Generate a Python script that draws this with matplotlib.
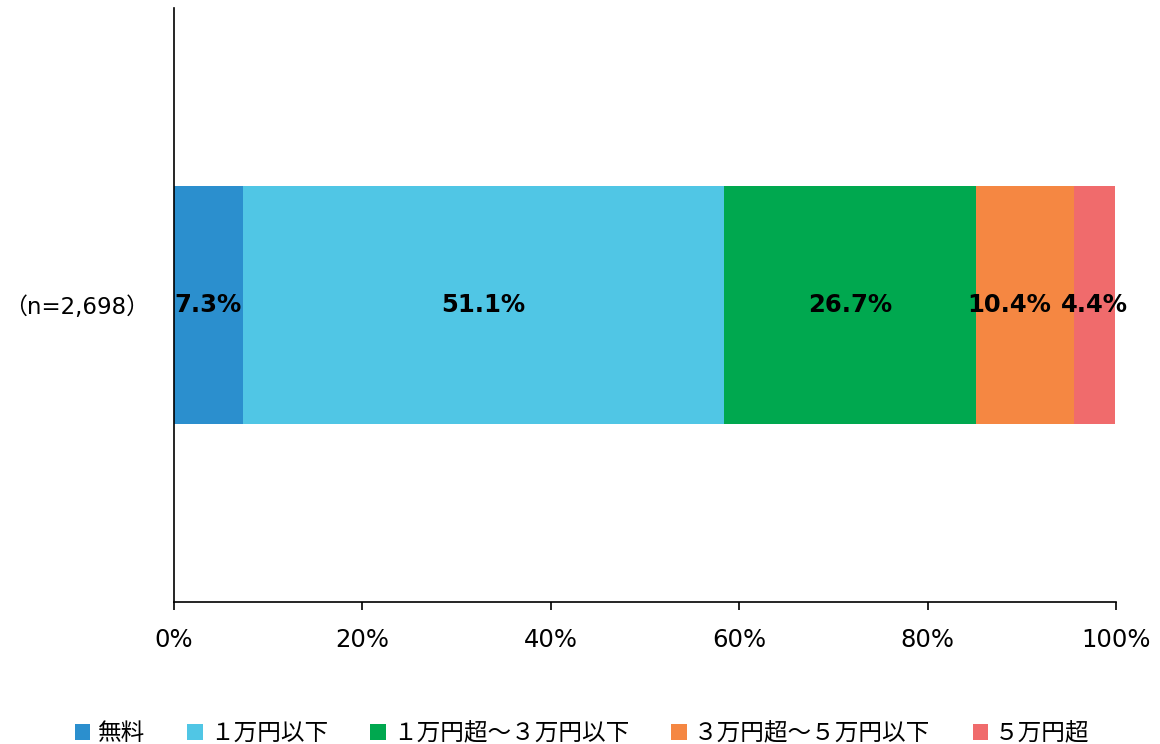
import matplotlib.pyplot as plt
from matplotlib.patches import Patch

plt.rcParams['font.family'] = ['DejaVu Sans', 'Noto Sans CJK JP']

categories = ['無料', '１万円以下', '１万円超～３万円以下', '３万円超～５万円以下', '５万円超']
values = [7.3, 51.1, 26.7, 10.4, 4.4]
colors = ['#2b8fce', '#50c6e5', '#00a84f', '#f58742', '#f06b6c']
row_label = '（n=2,698）'
ticks = [0, 20, 40, 60, 80, 100]

fig = plt.figure(figsize=(11.6, 7.44), dpi=100)
ax = fig.add_axes([0.15, 0.191, 0.812, 0.798])

# nudge the 10.4% label left so it doesn't run into the narrow last segment
label_shift = {3: -11}

left = 0
for i, (cat, v, c) in enumerate(zip(categories, values, colors)):
    ax.barh(0, v, left=left, height=0.4, color=c, label=cat)
    ax.annotate(f'{v}%', (left + v / 2, 0), xytext=(label_shift.get(i, 0), 0),
                textcoords='offset points', ha='center', va='center',
                fontsize=17.5, fontweight='bold', color='black')
    left += v

ax.set_xlim(0, 100)
ax.set_ylim(-0.5, 0.5)
ax.set_xticks(ticks)
ax.set_xticklabels([f'{t}%' for t in ticks], fontsize=17.5)
ax.tick_params(axis='x', length=6, width=1.2, pad=13)
ax.set_yticks([0])
ax.set_yticklabels([row_label], fontsize=16.5,
                   family=['DejaVu Sans', 'Noto Sans CJK JP'])
ax.tick_params(axis='y', length=0, pad=18)
for s in ['top', 'right']:
    ax.spines[s].set_visible(False)
ax.spines['left'].set_linewidth(1.2)
ax.spines['bottom'].set_linewidth(1.2)

handles = [Patch(facecolor=c, label=cat) for cat, c in zip(categories, colors)]
fig.legend(handles=handles, loc='lower center', ncol=5, frameon=False,
           bbox_to_anchor=(0.502, -0.03), handlelength=0.65, handleheight=0.65,
           handletextpad=0.3, columnspacing=1.8,
           prop={'family': ['Noto Sans CJK JP', 'DejaVu Sans'], 'size': 17})

fig.savefig('out.png', dpi=100)
